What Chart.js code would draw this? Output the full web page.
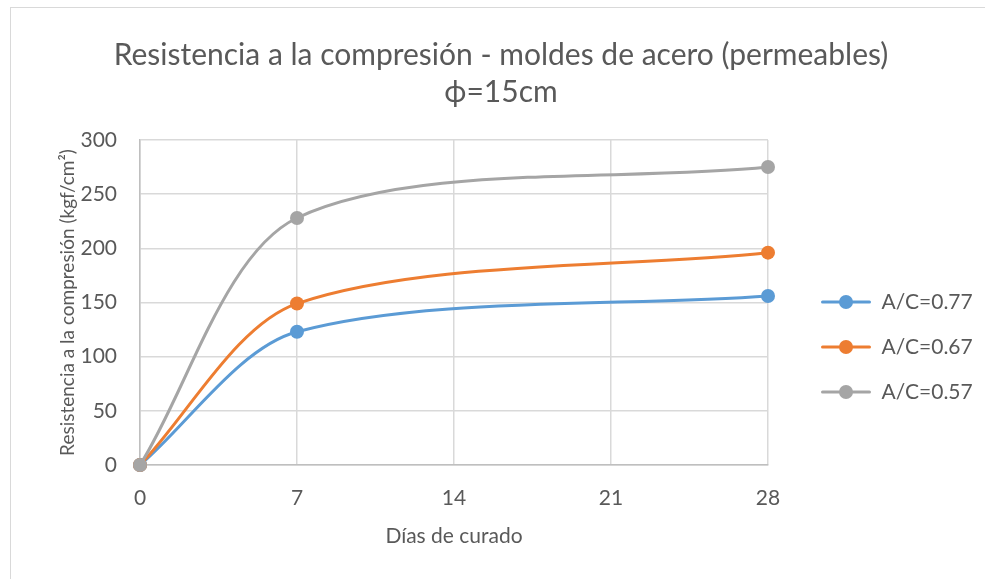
<!DOCTYPE html>
<html>
<head>
<meta charset="utf-8">
<script src="https://cdn.jsdelivr.net/npm/chart.js@4.4.0/dist/chart.umd.min.js"></script>
<style>
  body { margin: 0; background: #fff; }
  #wrap { position: relative; width: 985px; height: 579px; }
  #frame { position: absolute; left: 10px; top: 7px; right: 0; bottom: 0; border-top: 1px solid #d9d9d9; border-left: 1px solid #d9d9d9; }
</style>
</head>
<body>
<div id="wrap">
  <div id="frame"></div>
  <canvas id="myChart"></canvas>
</div>
<script>
// dias de curado y resistencias (kgf/cm2)
const dias = [0, 7, 28];
const ac077 = [0, 123, 156];
const ac067 = [0, 149, 196];
const ac057 = [0, 228, 275];
const serieNames = ['A/C=0.77', 'A/C=0.67', 'A/C=0.57'];
const serieColors = ['#5b9bd5', '#ed7d31', '#a5a5a5'];
const xTicks = [0, 7, 14, 21, 28];
const yTicks = [0, 50, 100, 150, 200, 250, 300];

const textColor = '#595959';
const font = 'Lato';
const legendSize = 21;
const legendPad = 24;
const markW = 79; // hueco transparente + linea de 50px

function toPoints(values) {
  return dias.map((d, i) => ({ x: d, y: values[i] }));
}

function legendImg(color) {
  let c = document.createElement('canvas');
  c.width = markW;
  c.height = 16;
  let g = c.getContext('2d');
  let x0 = markW - 50;
  g.strokeStyle = color;
  g.lineWidth = 3;
  g.lineCap = 'round';
  g.beginPath();
  g.moveTo(x0 + 1.5, 8);
  g.lineTo(x0 + 48.5, 8);
  g.stroke();
  g.fillStyle = color;
  g.beginPath();
  g.arc(x0 + 25, 8, 7, 0, Math.PI * 2);
  g.fill();
  return c;
}
const legendImgs = serieColors.map(legendImg);

// ancho natural de la leyenda, para que el area del grafico termine en x=768
let mctx = document.createElement('canvas').getContext('2d');
mctx.font = `normal ${legendSize}px ${font}`;
const legendTextW = Math.max(...serieNames.map(s => mctx.measureText(s).width));
const legendW = legendPad + markW + legendSize / 2 + legendTextW + 10;
const rightPad = Math.max(0, 985 - 768 - legendW);
const leftPad = rightPad + 17;

function buildDataset(i, values) {
  return {
    label: serieNames[i],
    data: toPoints(values),
    borderColor: serieColors[i],
    backgroundColor: serieColors[i],
    pointBackgroundColor: serieColors[i],
    pointBorderWidth: 0,
    pointRadius: 7,
    pointHoverRadius: 7,
    borderWidth: 3,
    showLine: true,
    tension: 0.3,
    clip: false,
    order: 3 - i
  };
}

const data = {
  datasets: [
    buildDataset(0, ac077),
    buildDataset(1, ac067),
    buildDataset(2, ac057)
  ]
};

const config = {
  type: 'scatter',
  data,
  options: {
    responsive: true,
    maintainAspectRatio: false,
    animation: false,
    layout: { padding: { left: leftPad, right: rightPad, top: 0, bottom: 26 } },
    plugins: {
      title: {
        display: true,
        text: ['Resistencia a la compresión - moldes de acero (permeables)', 'ϕ=15cm'],
        color: textColor,
        font: { family: font, size: 30, weight: 'normal', lineHeight: 1.233 },
        padding: { top: 36.5, bottom: 29.5 }
      },
      legend: {
        position: 'right',
        align: 'start',
        fullSize: false,
        title: { display: true, text: '', font: { size: 10, lineHeight: 1 }, padding: { top: 117.5, bottom: 0 } },
        labels: {
          usePointStyle: true,
          pointStyleWidth: markW,
          padding: legendPad,
          color: textColor,
          font: { family: font, size: legendSize },
          generateLabels: chart => chart.data.datasets.map((ds, i) => ({
            text: ds.label,
            pointStyle: legendImgs[i],
            fontColor: textColor,
            fillStyle: ds.borderColor,
            strokeStyle: ds.borderColor,
            lineWidth: 0,
            hidden: false,
            datasetIndex: i
          }))
        }
      },
      tooltip: { enabled: false }
    },
    scales: {
      x: {
        type: 'linear',
        min: 0,
        max: 28,
        afterBuildTicks: s => { s.ticks = xTicks.map(v => ({ value: v })); },
        afterFit: s => { s.height = 88; },
        grid: { color: '#d9d9d9', lineWidth: 1.5, drawTicks: false },
        border: { color: '#bfbfbf', width: 1.5 },
        ticks: { color: textColor, padding: 21, font: { family: font, size: 21 } },
        title: { display: true, text: 'Días de curado', color: textColor, font: { family: font, size: 21 }, padding: 4 }
      },
      y: {
        type: 'linear',
        min: 0,
        max: 300,
        afterBuildTicks: s => { s.ticks = yTicks.map(v => ({ value: v })); },
        afterFit: s => { s.width = 140 - leftPad; },
        grid: { color: '#d9d9d9', lineWidth: 1.5, drawTicks: false },
        border: { color: '#bfbfbf', width: 1.5 },
        ticks: { color: textColor, padding: 23, font: { family: font, size: 21 } },
        title: {
          display: true,
          text: 'Resistencia a la compresión (kgf/cm²)',
          color: textColor,
          font: { family: font, size: 19 },
          padding: { top: 67.4 - leftPad - 11.4, bottom: 4 }
        }
      }
    }
  }
};

window.myChart = new Chart(document.getElementById('myChart'), config);
</script>
</body>
</html>
